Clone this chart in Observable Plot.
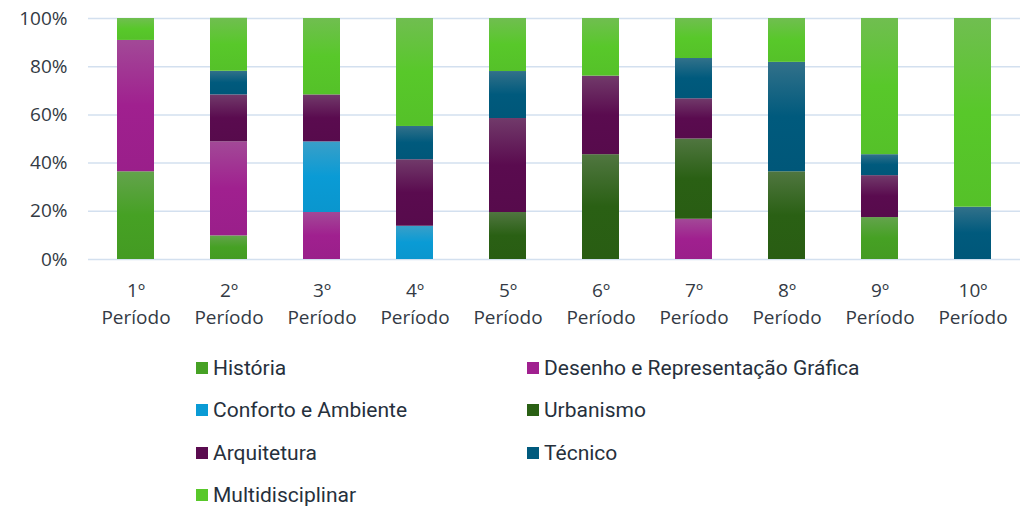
<!DOCTYPE html>
<html><head><meta charset="utf-8">
<script src="https://cdn.jsdelivr.net/npm/d3@7"></script>
<script src="https://cdn.jsdelivr.net/npm/@observablehq/plot@0.6"></script>
<style>
body{margin:0;background:#fff;font-family:"Open Sans",sans-serif;}
#wrap{position:relative;width:1021px;height:508px;}
#legend{position:absolute;left:0;top:340px;width:1021px;height:168px;}
.item{position:absolute;display:flex;align-items:center;height:26px;font-family:Roboto,sans-serif;font-size:21px;color:#26303c;white-space:nowrap;}
.sw{width:12px;height:12px;margin-right:5px;flex:none;}
</style></head><body><div id="wrap"><div id="chart"></div><div id="legend"></div></div>
<script>
const periods = ["1º\nPeríodo","2º\nPeríodo","3º\nPeríodo","4º\nPeríodo","5º\nPeríodo","6º\nPeríodo","7º\nPeríodo","8º\nPeríodo","9º\nPeríodo","10º\nPeríodo"];
const categories = ["História","Desenho e Representação Gráfica","Conforto e Ambiente","Urbanismo","Arquitetura","Técnico","Multidisciplinar"];
const colors = ["#46a124","#a0208f","#0a9bd5","#2a6014","#5a0b4f","#005a7d","#58c82a"];
const historia    = [36.4, 9.8, 0, 0, 0, 0, 0, 0, 17.4, 0];
const desenho     = [54.5, 39.0, 19.5, 0, 0, 0, 16.7, 0, 0, 0];
const conforto    = [0, 0, 29.3, 13.8, 0, 0, 0, 0, 0, 0];
const urbanismo   = [0, 0, 0, 0, 19.5, 43.5, 33.3, 36.4, 0, 0];
const arquitetura = [0, 19.5, 19.5, 27.6, 39.0, 32.6, 16.7, 0, 17.4, 0];
const tecnico     = [0, 9.8, 0, 13.8, 19.5, 0, 16.7, 45.4, 8.7, 21.7];
const multi       = [9.1, 22.0, 31.7, 44.8, 22.0, 23.9, 16.6, 18.2, 56.5, 78.3];
const yTicks = [0, 20, 40, 60, 80, 100];

const series = [historia, desenho, conforto, urbanismo, arquitetura, tecnico, multi];
const data = [];
series.forEach((vals, i) => vals.forEach((v, j) => { if (v > 0) data.push({period: periods[j], cat: categories[i], value: v}); }));

const gradIds = categories.map((c, i) => "grad" + i);
function defs() {
  const g = d3.create("svg:defs");
  colors.forEach((c, i) => {
    const light = d3.interpolateRgb(c, "#a8a8a8")(0.3);
    const lg = g.append("linearGradient").attr("id", gradIds[i]).attr("x1", 0).attr("y1", 0).attr("x2", 0).attr("y2", 1);
    lg.append("stop").attr("offset", "0%").attr("stop-color", light);
    lg.append("stop").attr("offset", "50%").attr("stop-color", c);
    lg.append("stop").attr("offset", "100%").attr("stop-color", d3.color(c).darker(0.1).formatHex());
  });
  return g.node();
}

const chart = Plot.plot({
  width: 1021,
  height: 340,
  marginTop: 18,
  marginBottom: 81,
  marginLeft: 88,
  marginRight: 1,
  style: {fontFamily: "'Open Sans', sans-serif", color: "#333a44", background: "#fff"},
  x: {type: "band", domain: periods, paddingInner: 0.607, paddingOuter: 0.3035, label: null, axis: null},
  y: {domain: [0, 100], label: null, axis: null},
  color: {domain: categories, range: gradIds.map(id => `url(#${id})`)},
  marks: [
    defs,
    Plot.gridY(yTicks, {stroke: "#d3e0ef", strokeOpacity: 1, strokeWidth: 1.5}),
    Plot.barY(data, Plot.stackY({x: "period", y: "value", fill: "cat", order: categories})),
    Plot.axisY(yTicks, {tickSize: 0, tickPadding: 21, fontSize: 19, tickFormat: d => d + "%", label: null}),
    Plot.axisX({tickSize: 0, tickPadding: 18, fontSize: 19, lineHeight: 1.42, label: null})
  ]
});
document.getElementById("chart").appendChild(chart);

const legend = document.getElementById("legend");
const pos = [[196, 28], [527, 28], [196, 70], [527, 70], [196, 113], [527, 113], [196, 155]];
categories.forEach((c, i) => {
  const it = document.createElement("div");
  it.className = "item";
  it.style.left = pos[i][0] + "px";
  it.style.top = (pos[i][1] - 13) + "px";
  const sw = document.createElement("span");
  sw.className = "sw";
  sw.style.background = colors[i];
  const tx = document.createElement("span");
  tx.textContent = c;
  it.appendChild(sw); it.appendChild(tx);
  legend.appendChild(it);
});
</script></body></html>
